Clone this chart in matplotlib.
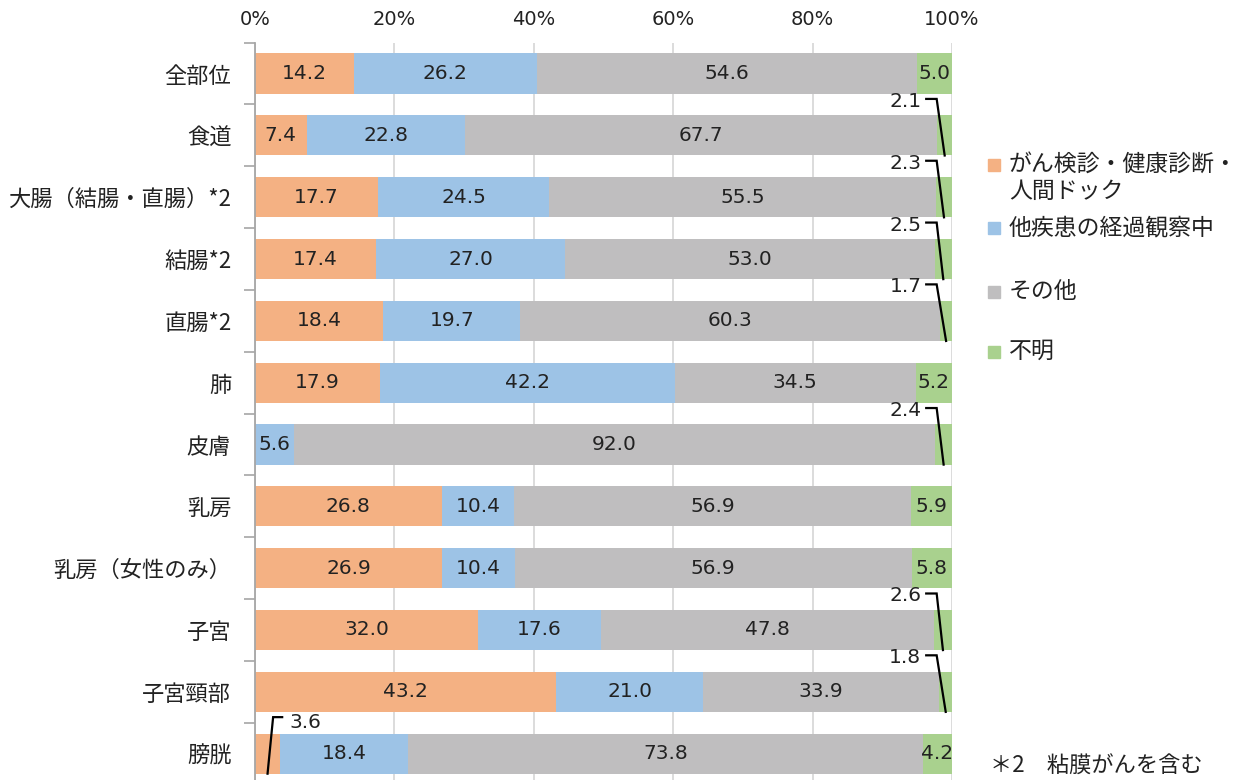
import matplotlib
matplotlib.use("Agg")
import matplotlib.pyplot as plt
import numpy as np
from matplotlib.patches import Rectangle

categories = ["全部位", "食道", "大腸（結腸・直腸）*2", "結腸*2", "直腸*2", "肺", "皮膚",
              "乳房", "乳房（女性のみ）", "子宮", "子宮頸部", "膀胱"]
screening = [14.2, 7.4, 17.7, 17.4, 18.4, 17.9, 0.0, 26.8, 26.9, 32.0, 43.2, 3.6]
other_disease = [26.2, 22.8, 24.5, 27.0, 19.7, 42.2, 5.6, 10.4, 10.4, 17.6, 21.0, 18.4]
others = [54.6, 67.7, 55.5, 53.0, 60.3, 34.5, 92.0, 56.9, 56.9, 47.8, 33.9, 73.8]
unknown = [5.0, 2.1, 2.3, 2.5, 1.7, 5.2, 2.4, 5.9, 5.8, 2.6, 1.8, 4.2]
series_names = ["がん検診・健康診断・\n人間ドック", "他疾患の経過観察中", "その他", "不明"]
tick_labels = ["0%", "20%", "40%", "60%", "80%", "100%"]
footnote = "＊2　粘膜がんを含む"

colors = ["#F4B183", "#9DC3E6", "#BFBEBF", "#A9D18E"]
CJK = ["Noto Sans CJK JP", "DejaVu Sans"]
plt.rcParams['font.family'] = CJK

fig = plt.figure(figsize=(12.5, 7.8), dpi=100)
ax = fig.add_axes([0.204, -0.0058, 0.5576, 0.9511])

data = np.array([screening, other_disease, others, unknown], dtype=float)
totals = data.sum(axis=0)
norm = data / totals * 100.0
y = np.arange(len(categories))
bh = 0.65
vfs = 14.5

left = np.zeros(len(categories))
for k in range(4):
    ax.barh(y, norm[k], left=left, height=bh, color=colors[k], edgecolor='none', zorder=3)
    for i in range(len(categories)):
        v = data[k, i]
        w = norm[k, i]
        if v <= 0:
            continue
        cx = left[i] + w / 2
        if w >= 4.0:
            ax.text(cx, i, f"{v:.1f}", ha='center', va='center', fontsize=vfs,
                    family='DejaVu Sans', color='#222222', zorder=5)
        else:
            yb = i + bh / 2
            yt = i - 0.55
            if cx > 50:
                xs = [96.3, 97.8, cx]
                ax.text(95.6, yt, f"{v:.1f}", ha='right', va='center', fontsize=vfs,
                        family='DejaVu Sans', color='#222222', zorder=5)
            else:
                xs = [3.9, 2.6, cx]
                ax.text(5.0, yt + 0.04, f"{v:.1f}", ha='left', va='center', fontsize=vfs,
                        family='DejaVu Sans', color='#222222', zorder=5)
            ax.plot(xs, [yt - 0.04, yt - 0.04, yb], color='black', lw=1.6,
                    clip_on=False, zorder=6, solid_joinstyle='miter')
    left = left + norm[k]

ax.set_xlim(0, 100)
ax.set_ylim(len(categories) - 0.5, -0.5)
ax.set_xticks(np.arange(0, 101, 20))
ax.set_xticklabels(tick_labels, family='DejaVu Sans', fontsize=14, color='#222222')
ax.xaxis.tick_top()
ax.tick_params(axis='x', length=0, pad=10)
ax.set_yticks(y)
ax.set_yticklabels(categories, fontsize=16, color='#222222')
ax.set_yticks(np.arange(-0.5, len(categories), 1.0), minor=True)
ax.tick_params(axis='y', which='major', length=0, pad=17)
ax.tick_params(axis='y', which='minor', length=8, width=1.2, color='#A6A6A6', direction='out')
ax.grid(axis='x', color='#D9D9D9', lw=1.3, zorder=0)
for s in ['top', 'right', 'bottom']:
    ax.spines[s].set_visible(False)
ax.spines['left'].set_color('#A6A6A6')
ax.spines['left'].set_linewidth(1.3)
ax.spines['left'].set_zorder(4)

# legend
leg_y = [165, 228, 292, 352]
for k in range(4):
    yy = 1 - leg_y[k] / 780
    fig.patches.append(Rectangle((988 / 1250, yy - 6 / 780), 12 / 1250, 12 / 780,
                                 transform=fig.transFigure, color=colors[k], zorder=5))
    fig.text(1009 / 1250, yy + 12 / 780, series_names[k], ha='left', va='top',
             fontsize=16.5, color='#222222', linespacing=1.2)

fig.text(990 / 1250, 1 - 766 / 780, footnote, ha='left', va='center', fontsize=16, color='#222222')

fig.savefig("out.png", dpi=100)
